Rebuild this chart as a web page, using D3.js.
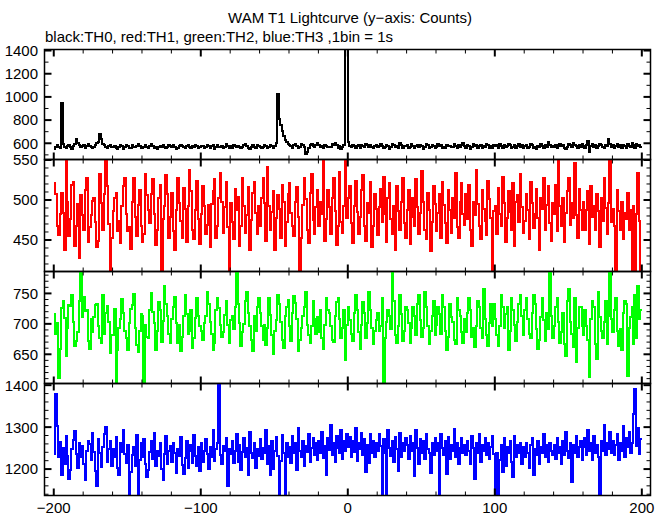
<!DOCTYPE html>
<html><head><meta charset="utf-8">
<script src="https://cdn.jsdelivr.net/npm/d3@7"></script>
<style>body{margin:0;background:#fff}svg{display:block}text{font-family:"Liberation Sans",Arial,sans-serif;fill:#000}</style>
</head><body><svg id="c" width="669" height="515"></svg>
<script>
const title = "WAM T1 Lightcurve (y\u2212axis: Counts)";
const subtitle = "black:TH0, red:TH1, green:TH2, blue:TH3 ,1bin = 1s";
const tStart = -200; // first bin start (s), 1 bin = 1 s
const xTickLabels = [-200, -100, 0, 100, 200];

const th0 = [
548,566,583,572,561,950,590,571,556,579,587,566,552,574,596,640,603,588,569,577,
582,563,575,594,578,569,557,571,588,601,612,680,633,594,581,566,559,574,583,567,
571,579,562,548,568,586,574,553,567,581,576,559,563,584,571,566,580,592,574,561,
557,572,584,569,562,578,591,574,559,566,548,565,579,572,586,570,555,568,583,576,
569,582,571,553,560,577,589,575,564,558,573,586,567,561,578,571,589,574,556,566,
579,573,558,566,585,577,562,575,581,553,566,588,571,564,579,558,572,590,576,562,
574,561,583,577,566,580,572,555,569,585,593,578,563,551,570,582,568,563,587,579,
571,558,565,582,577,556,568,584,579,562,575,602,1028,812,758,702,661,628,609,594,
582,578,562,589,597,574,556,569,591,583,572,508,528,561,586,597,573,565,582,602,
588,571,577,559,586,579,564,571,566,590,583,603,581,562,574,549,567,586,1440,1450,
612,578,566,589,575,560,573,584,562,588,577,569,596,581,565,583,571,560,578,586,
567,579,593,574,558,571,588,576,552,568,591,584,569,575,563,604,581,562,579,573,
584,563,570,593,577,558,574,582,567,589,576,551,569,594,585,562,571,587,578,557,
572,591,576,583,562,570,557,588,575,579,571,566,594,577,561,583,568,585,603,574,
561,582,573,551,569,592,578,584,562,576,588,557,573,568,595,581,563,578,556,584,
573,585,561,592,578,557,584,571,576,598,583,560,568,589,563,574,591,572,581,562,
578,586,558,567,593,584,563,572,551,579,569,594,580,562,588,571,607,585,566,573,
568,589,557,574,592,573,581,562,552,571,594,583,569,606,589,576,563,582,571,594,
577,562,588,622,528,573,596,571,584,563,576,592,583,568,561,587,574,638,596,572,
583,562,578,594,569,582,561,588,577,558,593,574,571,603,586,563,592,577,584,569];

const th1 = [
521,507,468,456,482,509,484,437,563,498,455,476,519,523,442,467,495,428,506,481,
462,512,527,448,466,481,499,503,472,441,449,532,496,463,508,562,517,470,402,453,
486,503,509,461,474,446,492,518,527,483,461,466,439,497,528,479,455,494,512,468,
447,458,533,506,488,471,507,526,482,444,463,502,519,404,476,493,531,507,452,479,
509,461,438,488,527,496,474,453,515,489,447,492,538,511,463,451,488,524,476,445,
483,517,492,458,469,494,441,495,511,526,452,468,503,534,497,459,491,522,466,409,
496,472,451,514,487,504,443,468,527,492,459,481,516,438,475,509,523,484,457,492,
467,503,528,496,449,541,493,462,485,511,437,478,506,489,453,519,497,442,473,508,
521,484,467,455,498,516,479,406,452,494,527,501,463,446,509,532,475,458,491,513,
468,497,482,556,449,476,512,491,458,503,528,486,444,467,535,472,459,493,557,478,
502,518,471,446,493,524,485,457,479,512,531,467,449,496,484,523,441,468,507,489,
456,491,514,473,529,482,447,502,521,476,458,493,438,517,486,462,497,528,471,452,
488,512,445,479,503,468,526,491,457,484,536,497,463,451,509,487,436,473,518,495,
461,484,508,453,522,494,471,446,513,488,459,502,478,534,466,452,497,521,483,469,
507,476,519,462,443,498,481,537,495,468,451,513,489,474,456,524,501,478,406,486,
492,458,515,483,467,529,496,448,477,511,485,463,521,442,498,506,472,533,491,459,
474,508,487,451,523,496,465,482,514,477,438,503,489,527,462,494,518,471,449,496,
483,519,461,556,492,467,503,448,484,511,527,469,496,478,546,481,453,514,487,462,
498,462,487,511,445,518,479,493,462,507,486,441,502,474,528,490,457,496,556,473,
489,468,401,512,486,463,497,451,484,476,509,462,488,403,493,401,482,534,474,404];

const th2 = [
716,683,702,611,658,726,737,709,648,694,731,729,748,703,664,672,687,738,790,712,
744,721,723,672,658,708,686,712,731,733,697,676,669,747,684,718,729,703,652,681,
682,724,600,657,693,708,741,718,688,676,657,702,725,731,749,693,666,654,689,717,
713,600,698,679,677,722,751,719,702,657,688,736,723,671,704,763,732,713,684,668,
708,727,744,702,668,698,655,678,713,748,717,684,688,723,661,676,709,742,713,697,
688,674,701,713,753,732,703,684,657,669,722,743,726,698,678,687,714,737,698,668,
707,713,692,728,790,733,702,663,686,699,737,752,718,697,673,656,713,688,728,742,
718,697,673,698,666,693,742,714,681,651,688,707,748,732,703,674,661,713,727,739,
697,672,718,746,734,708,656,674,693,713,727,753,698,682,668,697,738,708,683,712,
687,723,677,658,698,742,722,718,697,674,671,713,736,743,708,677,694,723,640,698,
728,707,683,672,718,747,723,686,658,698,736,718,677,702,753,722,693,667,688,707,
718,688,697,743,605,677,703,722,713,692,790,738,682,668,697,748,717,672,688,727,
723,702,668,693,727,713,681,733,747,707,678,693,753,728,697,667,688,713,738,682,
698,728,717,683,748,727,688,657,678,733,712,703,673,667,743,722,713,687,668,708,
687,718,743,722,678,693,662,697,738,727,693,677,758,708,682,663,702,733,697,733,
708,682,663,697,748,727,693,717,728,657,688,743,722,698,672,703,733,747,713,682,
723,742,708,683,677,718,747,733,692,658,673,712,743,707,672,718,692,790,713,677,
697,728,742,703,668,687,718,667,648,738,757,703,683,662,743,637,693,727,728,697,
682,723,697,673,612,708,737,728,667,643,753,712,688,677,703,738,667,713,790,708,
687,723,742,688,663,692,657,718,737,733,614,693,712,728,667,748,677,763,708,723];

const th3 = [
1237,1378,1302,1228,1264,1187,1251,1213,1279,1232,1176,1198,1247,1269,1291,1236,1203,1262,1228,1254,
1212,1173,1243,1268,1259,1222,1285,1241,1196,1160,1271,1238,1204,1253,1283,1301,1218,1247,1266,1207,
1248,1229,1277,1203,1186,1262,1241,1292,1236,1214,1257,1135,1193,1233,1252,1208,1281,1135,1222,1263,
1229,1272,1213,1182,1197,1241,1266,1224,1287,1208,1243,1231,1262,1201,1173,1237,1278,1212,1244,1256,
1218,1263,1238,1191,1247,1232,1277,1209,1189,1226,1268,1203,1242,1257,1214,1282,1231,1207,1252,1196,
1261,1217,1243,1271,1236,1199,1252,1228,1293,1219,1247,1262,1400,1233,1211,1256,1242,1274,1160,1248,
1236,1267,1214,1244,1283,1218,1257,1198,1241,1273,1229,1251,1186,1288,1238,1227,1261,1203,1249,1232,
1272,1223,1251,1238,1294,1213,1256,1186,1267,1201,1243,1277,1231,1135,1219,1281,1239,1135,1263,1228,
1253,1214,1278,1238,1262,1197,1297,1244,1229,1268,1208,1256,1241,1283,1218,1251,1273,1233,1262,1222,
1267,1239,1288,1227,1256,1186,1273,1246,1304,1233,1261,1218,1279,1251,1238,1292,1224,1267,1243,1284,
1253,1277,1228,1268,1241,1298,1219,1262,1248,1287,1233,1272,1194,1257,1214,1283,1238,1266,1229,1262,
1244,1283,1256,1135,1272,1238,1130,1293,1251,1232,1268,1218,1277,1249,1196,1287,1229,1262,1243,1273,
1257,1223,1278,1243,1262,1184,1294,1251,1213,1272,1238,1267,1223,1283,1249,1238,1190,1262,1233,1274,
1243,1262,1135,1284,1251,1233,1268,1188,1277,1223,1257,1243,1296,1228,1262,1213,1251,1273,1238,1257,
1233,1267,1244,1212,1278,1251,1176,1262,1238,1284,1218,1257,1243,1273,1233,1263,1223,1252,1278,1237,
1135,1238,1135,1222,1257,1193,1273,1208,1252,1238,1268,1218,1182,1278,1228,1257,1238,1262,1213,1252,
1228,1263,1238,1202,1257,1274,1186,1247,1233,1268,1212,1252,1238,1284,1228,1257,1218,1263,1243,1233,
1257,1223,1274,1238,1252,1211,1268,1233,1288,1243,1227,1262,1168,1257,1238,1279,1228,1252,1268,1222,
1252,1273,1233,1294,1243,1262,1221,1278,1238,1257,1228,1140,1268,1243,1304,1233,1262,1248,1289,1238,
1268,1233,1257,1283,1222,1263,1244,1303,1228,1273,1252,1288,1238,1262,1332,1392,1256,1298,1237,1271];

const colors = ["#000000", "#ff0000", "#00ff00", "#0000ff"];
const yDomains = [[460, 1409], [410.6, 550.6], [602, 786], [1137, 1404]];
const yMajor = [[600, 800, 1000, 1200, 1400], [450, 500, 550], [650, 700, 750], [1200, 1300, 1400]];
const yMinorStep = [100, 10, 10, 20];
const series = [th0, th1, th2, th3];

const svg = d3.select("#c");
const L = 44.5, R = 650.5;
const tops = [49.5, 159.5, 271.5, 383.5, 495.5];
const x = d3.scaleLinear().domain([-206.3, 205.9]).range([L, R]);
const xMinor = d3.range(-200, 201, 20);

svg.append("text").attr("x", 350).attr("y", 23).attr("text-anchor", "middle")
  .style("font-size", "15px").text(title);
svg.append("text").attr("x", 45).attr("y", 42)
  .style("font-size", "15px").text(subtitle);

series.forEach((vals, p) => {
  const y0 = tops[p], y1 = tops[p + 1];
  const y = d3.scaleLinear().domain(yDomains[p]).range([y1, y0]);
  const g = svg.append("g");
  const cid = "clip" + p;
  svg.append("clipPath").attr("id", cid).append("rect")
    .attr("x", L).attr("y", y0).attr("width", R - L).attr("height", y1 - y0);
  const pts = vals.map((v, i) => [tStart + i, v]);
  pts.push([tStart + vals.length, vals[vals.length - 1]]);
  const line = d3.line().x(d => x(d[0])).y(d => y(d[1])).curve(d3.curveStepAfter);
  g.append("path").datum(pts).attr("d", line).attr("clip-path", `url(#${cid})`)
    .attr("fill", "none").attr("stroke", colors[p]).attr("stroke-width", 2)
    .attr("shape-rendering", "crispEdges");

  g.append("rect").attr("x", L).attr("y", y0).attr("width", R - L).attr("height", y1 - y0)
    .attr("fill", "none").attr("stroke", "#000").attr("stroke-width", 1.5);

  xMinor.forEach(t => {
    const major = t % 100 === 0;
    const len = major ? 7 : 4;
    const sw = major ? 2 : 1;
    g.append("line").attr("x1", x(t)).attr("x2", x(t)).attr("y1", y1).attr("y2", y1 - len)
      .attr("stroke", "#000").attr("stroke-width", sw);
    g.append("line").attr("x1", x(t)).attr("x2", x(t)).attr("y1", y0).attr("y2", y0 + len)
      .attr("stroke", "#000").attr("stroke-width", sw);
  });

  const [d0, d1] = yDomains[p];
  const st = yMinorStep[p];
  for (let v = Math.ceil(d0 / st) * st; v <= d1; v += st) {
    const major = yMajor[p].includes(v);
    const len = major ? 7 : 4;
    const sw = major ? 2 : 1;
    g.append("line").attr("x1", L).attr("x2", L + len).attr("y1", y(v)).attr("y2", y(v))
      .attr("stroke", "#000").attr("stroke-width", sw);
    g.append("line").attr("x1", R).attr("x2", R - len).attr("y1", y(v)).attr("y2", y(v))
      .attr("stroke", "#000").attr("stroke-width", sw);
  }
  yMajor[p].forEach(v => {
    svg.append("text").attr("x", 38).attr("y", y(v)).attr("dy", "0.36em")
      .attr("text-anchor", "end").style("font-size", "15px").text(v);
  });
});

xTickLabels.forEach(t => {
  svg.append("text").attr("x", x(t)).attr("y", 513).attr("text-anchor", "middle")
    .style("font-size", "15px").text(t < 0 ? "\u2212" + Math.abs(t) : t);
});
</script></body></html>
